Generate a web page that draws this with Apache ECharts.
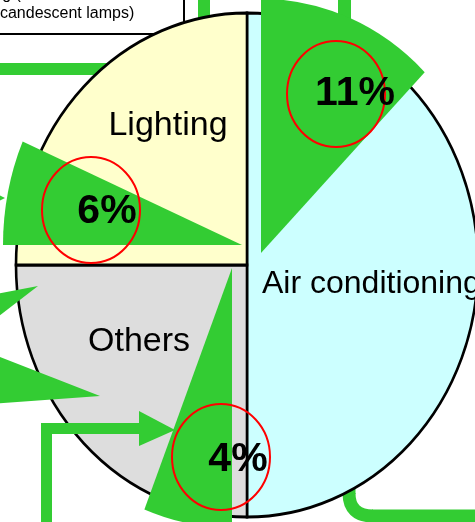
<!DOCTYPE html>
<html>
<head>
<meta charset="utf-8">
<script src="https://cdn.jsdelivr.net/npm/echarts@6/dist/echarts.min.js"></script>
<style>
  html, body { margin: 0; padding: 0; background: #fff; }
  #share { width: 475px; height: 522px; }
</style>
</head>
<body>
<div id="share"></div>
<script>
// pie slices, clockwise from 12 o'clock
var categories = ['Air conditioning', 'Others', 'Lighting'];
var shares = [50, 25, 25];

// green pulled-out wedges (percent of full circle, clockwise from 12 o'clock)
var wedgeLabels = ['11%', '6%', '4%'];
var wedgeStart = [0, 75, 50];
var wedgeShare = [12.4, 6.5, 6];

// box text (cut off by the picture edge)
var boxLines = ['Lighting (LED and', 'incandescent lamps)'];

var GREEN = '#33cc33';
var FONT = '"Liberation Sans", Arial, sans-serif';
var CX = 247, CY = 265, R = 231, SY = 252 / 231;
var sliceColors = ['#ccffff', '#dddddd', '#ffffcc'];
var wedgeApex = [[261, 253], [242, 245], [232, 268]];
var wedgeR = [233, 239, 238];
var labelPos = [[262, 284, 'left'], [139, 342, 'center'], [168, 126, 'center']];
var pctPos = [[355, 94], [107, 212], [238, 460]];
var rings = [[336, 94], [91, 210], [221, 457]];

function total(arr) {
  return arr.reduce(function (a, b) { return a + b; }, 0);
}

var myChart = echarts.init(document.getElementById('share'));

var graphics = [
  // background things (behind the pie)
  { type: 'rect', z: 1, shape: { x: -2, y: -30, width: 186, height: 64 },
    style: { fill: '#fff', stroke: '#000', lineWidth: 2 } },
  { type: 'rect', z: 1, shape: { x: -5, y: 63, width: 200, height: 12 }, style: { fill: GREEN } },
  { type: 'rect', z: 1, shape: { x: 198, y: -5, width: 12, height: 60 }, style: { fill: GREEN } },
  { type: 'rect', z: 1, shape: { x: 338, y: -5, width: 13, height: 40 }, style: { fill: GREEN } },
  { type: 'line', z: 1, shape: { x1: 349, y1: 470, x2: 349, y2: 494 },
    style: { stroke: GREEN, lineWidth: 13 } },
  { type: 'bezierCurve', z: 1, shape: { x1: 349, y1: 493, cpx1: 349, cpy1: 516, x2: 373, y2: 516 },
    style: { fill: 'none', stroke: GREEN, lineWidth: 13 } },
  { type: 'line', z: 1, shape: { x1: 372, y1: 516, x2: 490, y2: 516 },
    style: { stroke: GREEN, lineWidth: 13 } },
  // arrows on top of the pie
  { type: 'polygon', z: 10, shape: { points: [[-5, 193], [5, 198], [-5, 203]] }, style: { fill: GREEN } },
  { type: 'polygon', z: 10, shape: { points: [[-10, 295], [38, 286], [-10, 323]] }, style: { fill: GREEN } },
  { type: 'polygon', z: 10, shape: { points: [[-10, 353], [100, 396], [-10, 404]] }, style: { fill: GREEN } },
  { type: 'rect', z: 10, shape: { x: 41, y: 423, width: 11, height: 110 }, style: { fill: GREEN } },
  { type: 'rect', z: 10, shape: { x: 41, y: 423, width: 100, height: 11 }, style: { fill: GREEN } },
  { type: 'polygon', z: 10, shape: { points: [[139, 411], [175, 430], [139, 446]] }, style: { fill: GREEN } }
];

boxLines.forEach(function (t, i) {
  graphics.push({ type: 'text', z: 2, x: i ? -12.5 : -45, y: i ? 13.5 : -5,
    style: { text: t, font: '16px ' + FONT, fill: '#000', verticalAlign: 'middle' } });
});

// red rings, slightly taller than wide
rings.forEach(function (c) {
  graphics.push({ type: 'circle', z: 11, x: c[0], y: c[1], scaleY: 53 / 49,
    shape: { cx: 0, cy: 0, r: 49 },
    style: { fill: 'none', stroke: '#ff0000', lineWidth: 2, strokeNoScale: true } });
});

categories.forEach(function (name, i) {
  graphics.push({ type: 'text', z: 12, x: labelPos[i][0], y: labelPos[i][1],
    style: { text: name, font: (i === 0 ? 32 : 34) + 'px ' + FONT, fill: '#000',
      align: labelPos[i][2], verticalAlign: 'middle' } });
});

wedgeLabels.forEach(function (t, i) {
  graphics.push({ type: 'text', z: 12, x: pctPos[i][0], y: pctPos[i][1],
    style: { text: t, font: 'bold 41px ' + FONT, fill: '#000', align: 'center', verticalAlign: 'middle' } });
});

myChart.setOption({
  animation: false,
  graphic: graphics,
  series: [
    {
      type: 'custom',
      coordinateSystem: 'none',
      z: 5,
      data: shares.map(function (v, i) { return { name: categories[i], value: v }; }),
      renderItem: function (params, api) {
        var i = params.dataIndex, sum = total(shares), before = 0;
        for (var k = 0; k < i; k++) before += shares[k];
        var a0 = -Math.PI / 2 + before / sum * Math.PI * 2;
        var a1 = a0 + api.value(0) / sum * Math.PI * 2;
        return {
          type: 'sector', x: CX, y: CY, scaleY: SY,
          shape: { cx: 0, cy: 0, r: R, startAngle: a0, endAngle: a1 },
          style: { fill: sliceColors[i], stroke: '#000', lineWidth: 2.6, strokeNoScale: true }
        };
      }
    },
    {
      type: 'custom',
      coordinateSystem: 'none',
      z: 8,
      data: wedgeShare.map(function (v, i) { return { name: wedgeLabels[i], value: [wedgeStart[i], v] }; }),
      renderItem: function (params, api) {
        var i = params.dataIndex;
        var a0 = -Math.PI / 2 + api.value(0) / 100 * Math.PI * 2;
        var a1 = a0 + api.value(1) / 100 * Math.PI * 2;
        return {
          type: 'sector', x: wedgeApex[i][0], y: wedgeApex[i][1], scaleY: SY,
          shape: { cx: 0, cy: 0, r: wedgeR[i], startAngle: a0, endAngle: a1 },
          style: { fill: GREEN }
        };
      }
    }
  ]
});
</script>
</body>
</html>
